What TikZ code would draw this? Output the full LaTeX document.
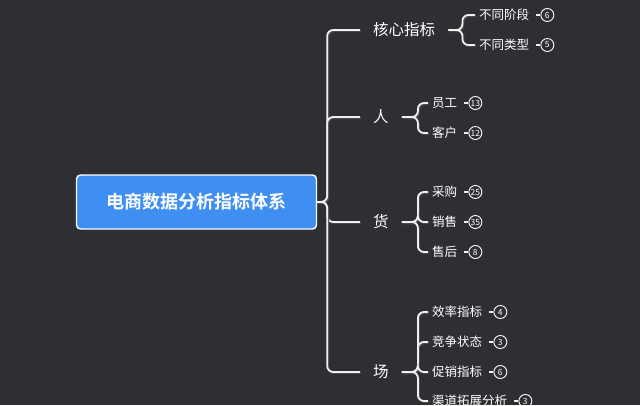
\documentclass[tikz,border=0pt]{standalone}
\usepackage{fontspec}
\newfontfamily\cjk{Noto Sans CJK SC}[BoldFont={Noto Sans CJK SC Bold}]
\usetikzlibrary{positioning}
\definecolor{bgcol}{HTML}{2E2F33}
\definecolor{rootblue}{HTML}{3F8FF2}
\definecolor{linecol}{HTML}{F0F0F0}

\begin{document}
\begin{tikzpicture}[x=1pt,y=-1pt,
	conn/.style={draw=linecol,line width=1.8pt,rounded corners=6pt,
		preaction={draw=black!70,line width=1.8pt,transform canvas={shift={(1pt,-1.2pt)}}}},
	stub/.style={draw=linecol,line width=1.4pt},
	rootbox/.style={draw=white,line width=1.4pt,fill=rootblue,rounded corners=4pt,
		minimum width=240pt,minimum height=54pt,text=white,
		font=\cjk\bfseries\fontsize{18}{20}\selectfont},
	topic/.style={anchor=west,inner xsep=13pt,text=white,font=\cjk\fontsize{15.5}{18}\selectfont},
	leaf/.style={anchor=west,inner xsep=4pt,text=white,font=\cjk\fontsize{12.5}{14}\selectfont},
	badge/.style={circle,draw=white,line width=0.9pt,inner sep=0.5pt,minimum size=13pt,
		text=white,font=\cjk\fontsize{8.5}{9}\selectfont},
]
\fill[bgcol] (0,0) rectangle (640,405);
\useasboundingbox (0,0) rectangle (640,405);

\node[rootbox] (root) at (196.5,202) {电商数据分析指标体系};

\node[topic] (hexin) at (360,30) {核心指标};
\node[topic] (ren) at (360,117) {人};
\node[topic] (huo) at (360,222) {货};
\node[topic] (chang) at (360,372) {场};

\node[leaf] (jieduan) at (475,15) {不同阶段};
\node[leaf] (leixing) at (475,45) {不同类型};
\node[leaf] (yuangong) at (428,103) {员工};
\node[leaf] (kehu) at (428,133) {客户};
\node[leaf] (caigou) at (428,192) {采购};
\node[leaf] (xiaoshou) at (428,222) {销售};
\node[leaf] (shouhou) at (428,252) {售后};
\node[leaf] (xiaolv) at (428,312) {效率指标};
\node[leaf] (jingzheng) at (428,342) {竞争状态};
\node[leaf] (cuxiao) at (428,372) {促销指标};
\node[leaf] (qudao) at (428,401) {渠道拓展分析};

\node[badge,right=7pt of jieduan] (njieduan) {6};
\node[badge,right=7pt of leixing] (nleixing) {5};
\node[badge,right=7pt of yuangong] (nyuangong) {13};
\node[badge,right=7pt of kehu] (nkehu) {12};
\node[badge,right=7pt of caigou] (ncaigou) {25};
\node[badge,right=7pt of xiaoshou] (nxiaoshou) {35};
\node[badge,right=7pt of shouhou] (nshouhou) {8};
\node[badge,right=7pt of xiaolv] (nxiaolv) {4};
\node[badge,right=7pt of jingzheng] (njingzheng) {3};
\node[badge,right=7pt of cuxiao] (ncuxiao) {6};
\node[badge,right=7pt of qudao] (nqudao) {3};

\draw[conn] (root.east) -- ++(10,0) |- (hexin.west);
\draw[conn] (root.east) -- ++(10,0) |- (ren.west);
\draw[conn] (root.east) -- ++(10,0) |- (huo.west);
\draw[conn] (root.east) -- ++(10,0) |- (chang.west);

\draw[conn] (hexin.east) -- ++(14,0) |- (jieduan.west);
\draw[conn] (hexin.east) -- ++(14,0) |- (leixing.west);
\draw[conn] (ren.east) -- ++(16,0) |- (yuangong.west);
\draw[conn] (ren.east) -- ++(16,0) |- (kehu.west);
\draw[conn] (huo.east) -- ++(16,0) |- (caigou.west);
\draw[conn] (huo.east) -- ++(16,0) |- (xiaoshou.west);
\draw[conn] (huo.east) -- ++(16,0) |- (shouhou.west);
\draw[conn] (chang.east) -- ++(16,0) |- (xiaolv.west);
\draw[conn] (chang.east) -- ++(16,0) |- (jingzheng.west);
\draw[conn] (chang.east) -- ++(16,0) |- (cuxiao.west);
\draw[conn] (chang.east) -- ++(16,0) |- (qudao.west);

\draw[stub] ([xshift=3pt]jieduan.east) -- (njieduan);
\draw[stub] ([xshift=3pt]leixing.east) -- (nleixing);
\draw[stub] ([xshift=3pt]yuangong.east) -- (nyuangong);
\draw[stub] ([xshift=3pt]kehu.east) -- (nkehu);
\draw[stub] ([xshift=3pt]caigou.east) -- (ncaigou);
\draw[stub] ([xshift=3pt]xiaoshou.east) -- (nxiaoshou);
\draw[stub] ([xshift=3pt]shouhou.east) -- (nshouhou);
\draw[stub] ([xshift=3pt]xiaolv.east) -- (nxiaolv);
\draw[stub] ([xshift=3pt]jingzheng.east) -- (njingzheng);
\draw[stub] ([xshift=3pt]cuxiao.east) -- (ncuxiao);
\draw[stub] ([xshift=3pt]qudao.east) -- (nqudao);
\end{tikzpicture}
\end{document}
